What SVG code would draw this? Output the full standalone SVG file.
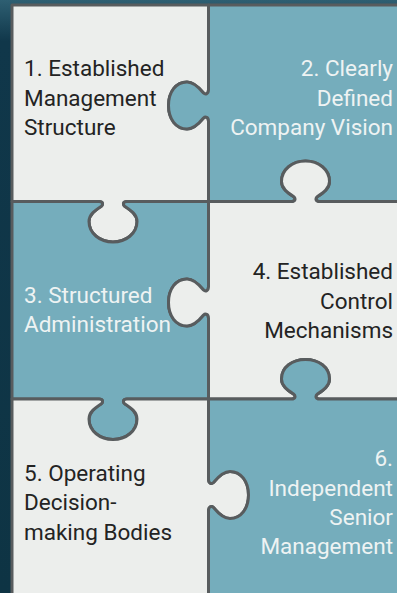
<svg xmlns="http://www.w3.org/2000/svg" width="397" height="593" viewBox="0 0 397 593">
<style>
.p{stroke:#585c5e;stroke-width:3;stroke-linejoin:round}
.l{fill:#eceeec}
.t{fill:#75adbc}
text{font-family:Roboto,"Liberation Sans",sans-serif;font-size:22.5px}
.d{fill:#232323}
.w{fill:#eef3f3}
.e{text-anchor:end}
</style>
<defs>
<linearGradient id="bg" x1="0" y1="0" x2="0" y2="1"><stop offset="0" stop-color="#2e5f72"/><stop offset="0.07" stop-color="#10374a"/><stop offset="1" stop-color="#0e3444"/></linearGradient>
</defs>
<rect width="397" height="593" fill="url(#bg)"/>
<g id="piece1">
<path class="p l" d="M12,5 H208.5 V89.5 C208.5,94 205.5,95 203.5,93 C199,87.5 194,82 187,82 C176,82 168.5,92 168.5,105.5 C168.5,119 176,129 187,129 C194,129 199,123.5 203.5,118 C205.5,116 208.5,117 208.5,121.5 V201.5 H127 C123,201.5 122.5,204.5 125,206.5 C131,210.5 137,214.5 137,221.5 C137,233.5 126,242 113,242 C100,242 89,233.5 89,221.5 C89,214.5 95,210.5 101,206.5 C103.5,204.5 103,201.5 99,201.5 H12 Z"/>
<text class="d" x="24" y="76">1. Established</text>
<text class="d" x="24" y="105.5">Management</text>
<text class="d" x="24" y="134.5">Structure</text>
</g>
<g id="piece2">
<path class="p t" d="M208.5,5 H400 V201.5 H319.5 C315.5,201.5 315,198.5 317.5,196.5 C323.5,192.5 329.5,188.5 329.5,181.5 C329.5,169.5 318.5,161 305.5,161 C292.5,161 281.5,169.5 281.5,181.5 C281.5,188.5 287.5,192.5 293.5,196.5 C296,198.5 295.5,201.5 291.5,201.5 H208.5 V121.5 C208.5,117 205.5,116 203.5,118 C199,123.5 194,129 187,129 C176,129 168.5,119 168.5,105.5 C168.5,92 176,82 187,82 C194,82 199,87.5 203.5,93 C205.5,95 208.5,94 208.5,89.5 Z"/>
<text class="w e" x="393" y="76">2. Clearly</text>
<text class="w e" x="393" y="105.5">Defined</text>
<text class="w e" x="393" y="134.5">Company Vision</text>
</g>
<g id="piece3">
<path class="p t" d="M12,201.5 H99 C103,201.5 103.5,204.5 101,206.5 C95,210.5 89,214.5 89,221.5 C89,233.5 100,242 113,242 C126,242 137,233.5 137,221.5 C137,214.5 131,210.5 125,206.5 C122.5,204.5 123,201.5 127,201.5 H208.5 V286.5 C208.5,291 205.5,292 203.5,290 C199,284.5 194,279 187,279 C176,279 168.5,289 168.5,302.5 C168.5,316 176,326 187,326 C194,326 199,320.5 203.5,315 C205.5,313 208.5,314 208.5,318.5 V399 H127 C123,399 122.5,402 125,404 C131,408 137,412 137,419 C137,431 126,439.5 113,439.5 C100,439.5 89,431 89,419 C89,412 95,408 101,404 C103.5,402 103,399 99,399 H12 Z"/>
<text class="w" x="24" y="302.5">3. Structured</text>
<text class="w" x="24" y="331.5">Administration</text>
</g>
<g id="piece4">
<path class="p l" d="M208.5,201.5 H291.5 C295.5,201.5 296,198.5 293.5,196.5 C287.5,192.5 281.5,188.5 281.5,181.5 C281.5,169.5 292.5,161 305.5,161 C318.5,161 329.5,169.5 329.5,181.5 C329.5,188.5 323.5,192.5 317.5,196.5 C315,198.5 315.5,201.5 319.5,201.5 H400 V399 H319.5 C315.5,399 315,396 317.5,394 C323.5,390 329.5,386 329.5,379 C329.5,367 318.5,359.5 305.5,359.5 C292.5,359.5 281.5,367 281.5,379 C281.5,386 287.5,390 293.5,394 C296,396 295.5,399 291.5,399 H208.5 V318.5 C208.5,314 205.5,313 203.5,315 C199,320.5 194,326 187,326 C176,326 168.5,316 168.5,302.5 C168.5,289 176,279 187,279 C194,279 199,284.5 203.5,290 C205.5,292 208.5,291 208.5,286.5 Z"/>
<text class="d e" x="393" y="279">4. Established</text>
<text class="d e" x="393" y="308.5">Control</text>
<text class="d e" x="393" y="337.5">Mechanisms</text>
</g>
<g id="piece5">
<path class="p l" d="M12,399 H99 C103,399 103.5,402 101,404 C95,408 89,412 89,419 C89,431 100,439.5 113,439.5 C126,439.5 137,431 137,419 C137,412 131,408 125,404 C122.5,402 123,399 127,399 H208.5 V479 C208.5,483.5 211.5,484.5 213.5,482.5 C218,477 223,471.5 230,471.5 C241,471.5 248.5,481.5 248.5,495 C248.5,508.5 241,518.5 230,518.5 C223,518.5 218,513 213.5,507.5 C211.5,505.5 208.5,506.5 208.5,511 V596 H12 Z"/>
<text class="d" x="24" y="480.5">5. Operating</text>
<text class="d" x="24" y="510">Decision-</text>
<text class="d" x="24" y="539.5">making Bodies</text>
</g>
<g id="piece6">
<path class="p t" d="M208.5,399 H291.5 C295.5,399 296,396 293.5,394 C287.5,390 281.5,386 281.5,379 C281.5,367 292.5,359.5 305.5,359.5 C318.5,359.5 329.5,367 329.5,379 C329.5,386 323.5,390 317.5,394 C315,396 315.5,399 319.5,399 H400 V596 H208.5 V511 C208.5,506.5 211.5,505.5 213.5,507.5 C218,513 223,518.5 230,518.5 C241,518.5 248.5,508.5 248.5,495 C248.5,481.5 241,471.5 230,471.5 C223,471.5 218,477 213.5,482.5 C211.5,484.5 208.5,483.5 208.5,479 Z"/>
<text class="w e" x="393" y="466">6.</text>
<text class="w e" x="393" y="495.5">Independent</text>
<text class="w e" x="393" y="525">Senior</text>
<text class="w e" x="393" y="554">Management</text>
</g>
</svg>
